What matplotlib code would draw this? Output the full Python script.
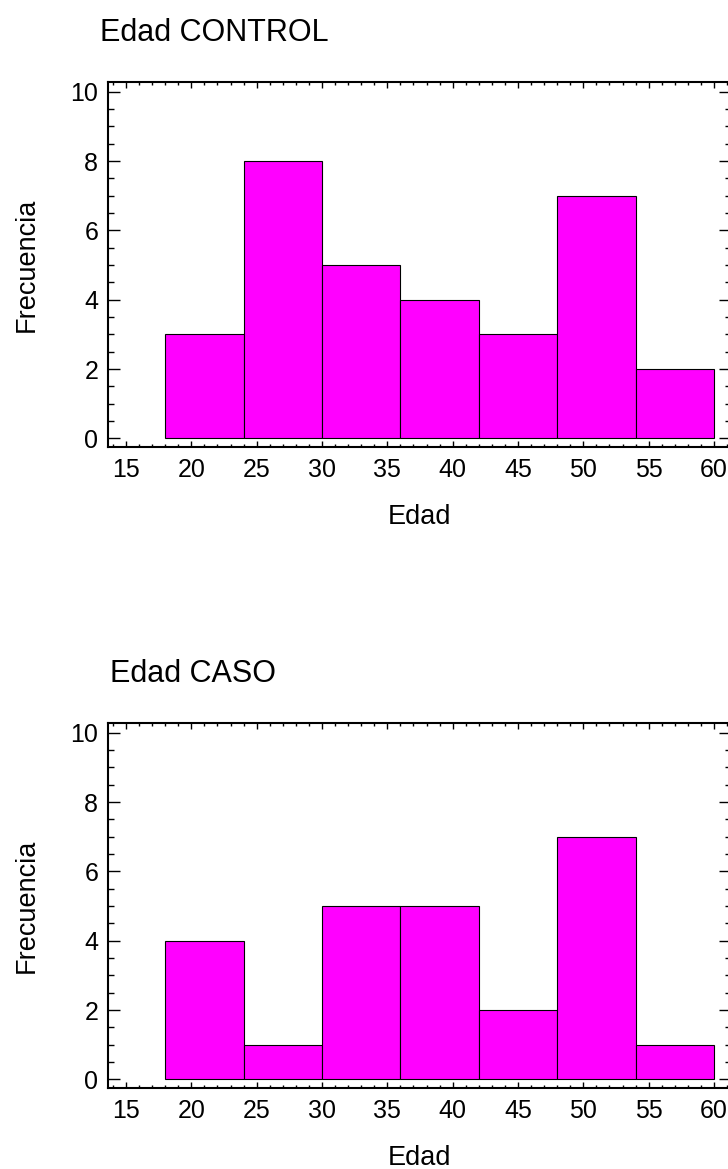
import matplotlib
matplotlib.use('Agg')
import matplotlib.pyplot as plt
from matplotlib.ticker import MultipleLocator

plt.rcParams['font.family'] = ['Liberation Sans', 'DejaVu Sans']

# histogram bins (left edges) and counts
bordes = [18, 24, 30, 36, 42, 48, 54]
ancho = 6
control = [3, 8, 5, 4, 3, 7, 2]
caso = [4, 1, 5, 5, 2, 7, 1]
titulos = ['Edad CONTROL', 'Edad CASO']

fig = plt.figure(figsize=(7.28, 11.69), dpi=100)
W, H = 728, 1169

def panel(top_px, datos, titulo, title_x, title_base):
    bottom_px = top_px + 365
    # right spine sits just past the picture edge, as in the original
    ax = fig.add_axes([108 / W, 1 - bottom_px / H, (731 - 108) / W, 365 / H])
    ax.bar(bordes, datos, width=ancho, align='edge', color='#FF00FF',
           edgecolor='black', linewidth=0.8)
    ax.set_xlim(13.62, 61.3)
    ax.set_ylim(-0.25, 10.28)
    ax.xaxis.set_major_locator(MultipleLocator(5))
    ax.xaxis.set_minor_locator(MultipleLocator(1))
    ax.yaxis.set_major_locator(MultipleLocator(2))
    ax.yaxis.set_minor_locator(MultipleLocator(0.5))
    ax.tick_params(which='both', direction='in', top=True, right=True,
                   width=1.0, labelsize=18)
    ax.tick_params(axis='x', which='major', length=4.3, pad=8)
    ax.tick_params(axis='x', which='minor', length=2.5)
    ax.tick_params(axis='y', which='major', length=8.6, pad=7)
    ax.tick_params(axis='y', which='minor', length=4.3)
    for s in ax.spines.values():
        s.set_linewidth(1.5)
    ax.set_xlabel('Edad', fontsize=19.5, labelpad=16)
    ax.set_ylabel('Frecuencia', fontsize=19.5, labelpad=22)
    fig.text(title_x / W, 1 - title_base / H, titulo, fontsize=22,
             ha='left', va='baseline')
    return ax

panel(82, control, titulos[0], 100, 41)
panel(723, caso, titulos[1], 110, 682)

fig.savefig('out.png', dpi=100)
